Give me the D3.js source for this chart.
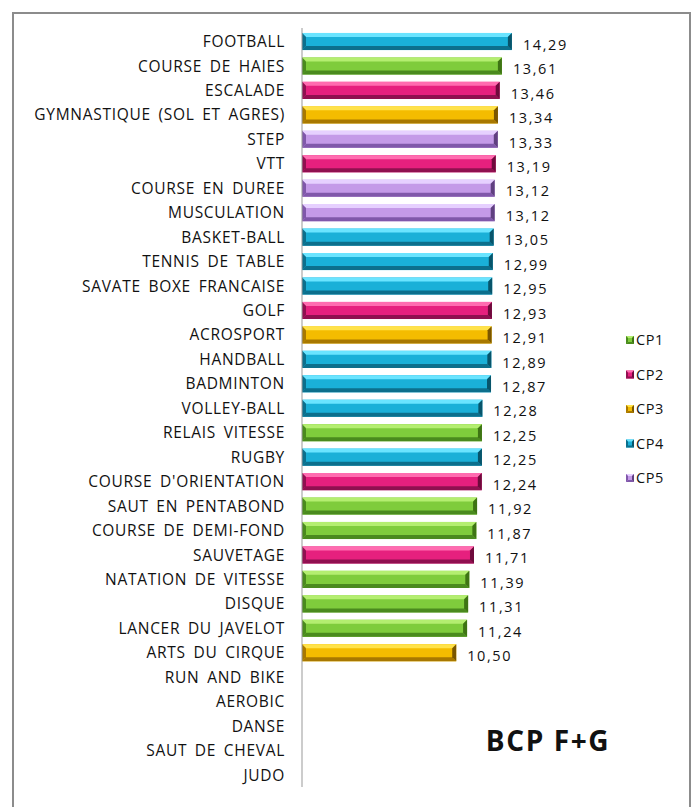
<!DOCTYPE html>
<html>
<head>
<meta charset="utf-8">
<script src="https://cdn.jsdelivr.net/npm/d3@7"></script>
<style>
  body { margin: 0; background: #fff; }
  svg text { font-family: "Open Sans", "Liberation Sans", sans-serif; fill: #111; }
</style>
</head>
<body>
<div class="graph"></div>
<script>
const width = 692;
const height = 807;

// activities, top to bottom
const activities = [
  "FOOTBALL", "COURSE DE HAIES", "ESCALADE", "GYMNASTIQUE (SOL ET AGRES)", "STEP",
  "VTT", "COURSE EN DUREE", "MUSCULATION", "BASKET-BALL", "TENNIS DE TABLE",
  "SAVATE BOXE FRANCAISE", "GOLF", "ACROSPORT", "HANDBALL", "BADMINTON",
  "VOLLEY-BALL", "RELAIS VITESSE", "RUGBY", "COURSE D'ORIENTATION", "SAUT EN PENTABOND",
  "COURSE DE DEMI-FOND", "SAUVETAGE", "NATATION DE VITESSE", "DISQUE", "LANCER DU JAVELOT",
  "ARTS DU CIRQUE", "RUN AND BIKE", "AEROBIC", "DANSE", "SAUT DE CHEVAL", "JUDO"
];
const scores = [
  14.29, 13.61, 13.46, 13.34, 13.33,
  13.19, 13.12, 13.12, 13.05, 12.99,
  12.95, 12.93, 12.91, 12.89, 12.87,
  12.28, 12.25, 12.25, 12.24, 11.92,
  11.87, 11.71, 11.39, 11.31, 11.24,
  10.50, null, null, null, null, null
];
const groups = [
  "CP4", "CP1", "CP2", "CP3", "CP5",
  "CP2", "CP5", "CP5", "CP4", "CP4",
  "CP4", "CP2", "CP3", "CP4", "CP4",
  "CP4", "CP1", "CP4", "CP2", "CP1",
  "CP1", "CP2", "CP1", "CP1", "CP1",
  "CP3", null, null, null, null, null
];
const legendKeys = ["CP1", "CP2", "CP3", "CP4", "CP5"];

// base / light / dark shade per group
const palette = {
  CP1: { base: "#7fcc3c", light: "#b4ee70", dark: "#4a8a1e", side: "#3e7414" },
  CP2: { base: "#e6207e", light: "#ff6cb0", dark: "#901050", side: "#6e0a3c" },
  CP3: { base: "#f4bc00", light: "#ffe24a", dark: "#a87800", side: "#7a5600" },
  CP4: { base: "#1ab0d8", light: "#6ae4ff", dark: "#0c6f8c", side: "#08546a" },
  CP5: { base: "#c49ae8", light: "#e6d0ff", dark: "#8058aa", side: "#604080" }
};

const svg = d3.select(".graph").append("svg")
  .attr("width", width)
  .attr("height", height);

// outer frame
svg.append("rect")
  .attr("x", 13).attr("y", 13)
  .attr("width", 677).attr("height", 800)
  .attr("fill", "none")
  .attr("stroke", "#8c8c8c")
  .attr("stroke-width", 2);

const x = d3.scaleLinear().domain([0, 16]).range([302, 537]);
const y = d3.scaleBand()
  .domain(activities)
  .range([29.3, 787.2])
  .paddingInner(0.3)
  .paddingOuter(0.15);

// category labels
svg.append("g").selectAll("text")
  .data(activities)
  .enter().append("text")
  .attr("x", 285)
  .attr("y", (d) => y(d) + y.bandwidth() / 2)
  .attr("dy", "0.36em")
  .attr("text-anchor", "end")
  .attr("font-size", 15.5)
  .attr("letter-spacing", 0.7)
  .attr("word-spacing", 3)
  .text((d) => d);

// bevelled bar drawing
function bevel(g, x0, y0, x1, y1, b, c) {
  const poly = (pts, fill) => g.append("polygon")
    .attr("points", pts.map((p) => p.join(",")).join(" "))
    .attr("fill", fill);
  g.append("rect")
    .attr("x", x0).attr("y", y0)
    .attr("width", x1 - x0).attr("height", y1 - y0)
    .attr("fill", c.base);
  poly([[x0, y0], [x1, y0], [x1 - b, y0 + b], [x0 + b, y0 + b]], c.light);
  poly([[x0, y1], [x1, y1], [x1 - b, y1 - b], [x0 + b, y1 - b]], c.dark);
  poly([[x0, y0], [x0 + b, y0 + b], [x0 + b, y1 - b], [x0, y1]], c.dark);
  poly([[x1, y0], [x1 - b, y0 + b], [x1 - b, y1 - b], [x1, y1]], c.side);
}

const rows = activities.map((a, i) => ({ name: a, value: scores[i], group: groups[i] }))
  .filter((d) => d.value !== null);

rows.forEach((d) => {
  const g = svg.append("g").attr("class", "bar");
  bevel(g, x(0), y(d.name), x(d.value), y(d.name) + y.bandwidth(), 4, palette[d.group]);
});

// value labels
svg.append("g").selectAll("text")
  .data(rows)
  .enter().append("text")
  .attr("x", (d) => x(d.value) + 11)
  .attr("y", (d) => y(d.name) + y.bandwidth() / 2 + 3)
  .attr("dy", "0.36em")
  .attr("font-size", 14.5)
  .attr("letter-spacing", 1.6)
  .text((d) => d.value.toFixed(2).replace(".", ","));

// axis line
svg.append("line")
  .attr("x1", x(0)).attr("x2", x(0))
  .attr("y1", 28).attr("y2", 787)
  .attr("stroke", "#999")
  .attr("stroke-width", 1);

// legend
const legend = svg.append("g").selectAll("g")
  .data(legendKeys)
  .enter().append("g")
  .attr("transform", (d, i) => "translate(626," + (340 + i * 34.5) + ")");

legend.each(function (d) {
  bevel(d3.select(this), 0, -4, 8, 4, 2, palette[d]);
});
legend.append("text")
  .attr("x", 10)
  .attr("dy", "0.36em")
  .attr("font-size", 14.5)
  .attr("letter-spacing", 0.6)
  .text((d) => d);

// chart title
svg.append("text")
  .attr("x", 548)
  .attr("y", 751)
  .attr("text-anchor", "middle")
  .attr("font-size", 28)
  .attr("font-weight", "bold")
  .attr("letter-spacing", 1.6)
  .text("BCP F+G");
</script>
</body>
</html>
